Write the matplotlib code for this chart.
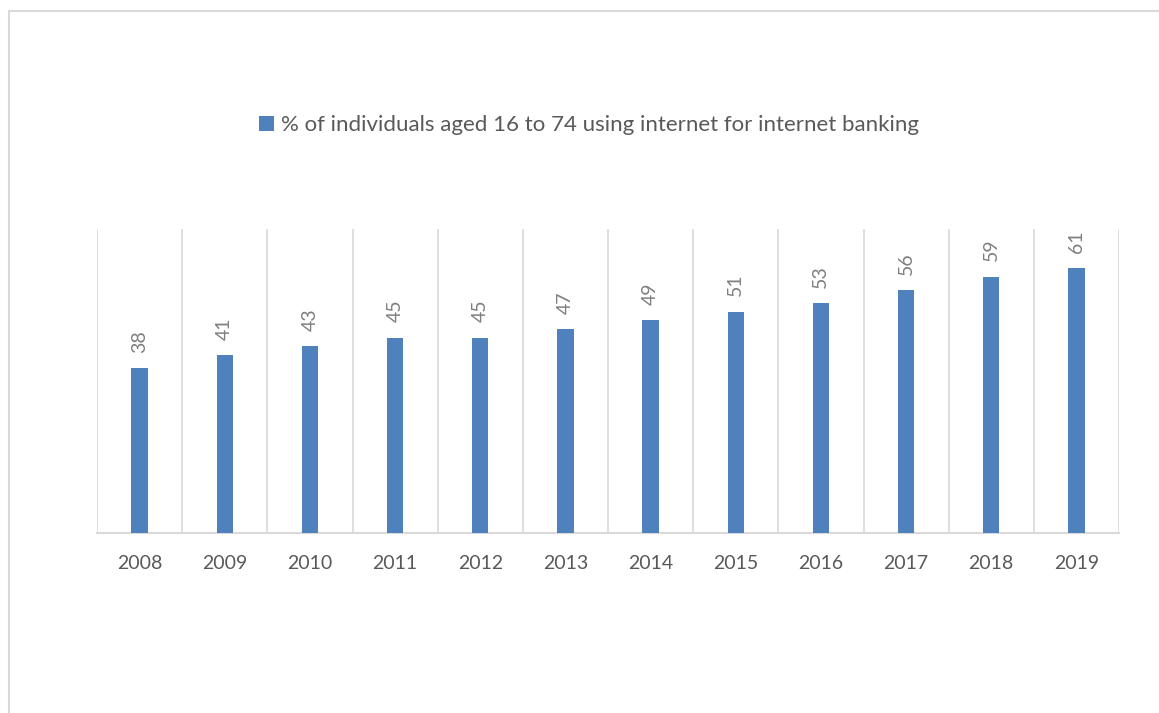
import matplotlib
matplotlib.use("Agg")
import matplotlib.pyplot as plt
from matplotlib.patches import Rectangle

years = ["2008", "2009", "2010", "2011", "2012", "2013", "2014", "2015", "2016", "2017", "2018", "2019"]
values = [38, 41, 43, 45, 45, 47, 49, 51, 53, 56, 59, 61]
series_name = "% of individuals aged 16 to 74 using internet for internet banking"

plt.rcParams['font.family'] = ['Lato', 'DejaVu Sans']

W, H = 1159, 713
fig = plt.figure(figsize=(W / 100, H / 100), dpi=100)

# outer chart frame (cropped at right/bottom)
fig.patches.append(Rectangle((9 / W, -0.05), 1.2, 1 - 11 / H + 0.05,
                             transform=fig.transFigure, fill=False,
                             edgecolor="#d9d9d9", linewidth=1.5))

ax = fig.add_axes([97 / W, 1 - 533 / H, (1119 - 97) / W, (533 - 229) / H])
x = list(range(len(years)))
bars = ax.bar(x, values, width=0.19, color="#4f81bd", label=series_name, zorder=3)

ax.set_xlim(-0.5, len(years) - 0.5)
ax.set_ylim(0, 70)
ax.set_yticks([])
ax.set_xticks(x)
ax.set_xticklabels(years, fontsize=14, color="#595959")
ax.tick_params(axis="x", length=0, pad=16)
for s in ["top", "left", "right"]:
    ax.spines[s].set_visible(False)
ax.spines["bottom"].set_color("#d9d9d9")
ax.spines["bottom"].set_linewidth(1.5)

# vertical gridlines at category boundaries
for b in [i - 0.5 for i in range(len(years) + 1)]:
    ax.axvline(b, color="#d9d9d9", linewidth=1.2, zorder=1)

for xi, v in zip(x, values):
    ax.annotate(str(v), (xi, v), xytext=(0, 11), textcoords="offset points",
                rotation=90, ha="center", va="bottom", fontsize=14, color="#7f7f7f")

fig.legend(handles=[bars], labels=[series_name], loc="center",
           bbox_to_anchor=(589 / W, 1 - 125 / H), frameon=False, fontsize=16,
           handlelength=0.65, handleheight=0.65, handletextpad=0.3,
           labelcolor="#595959")

fig.savefig("out.png", dpi=100, facecolor="white")
